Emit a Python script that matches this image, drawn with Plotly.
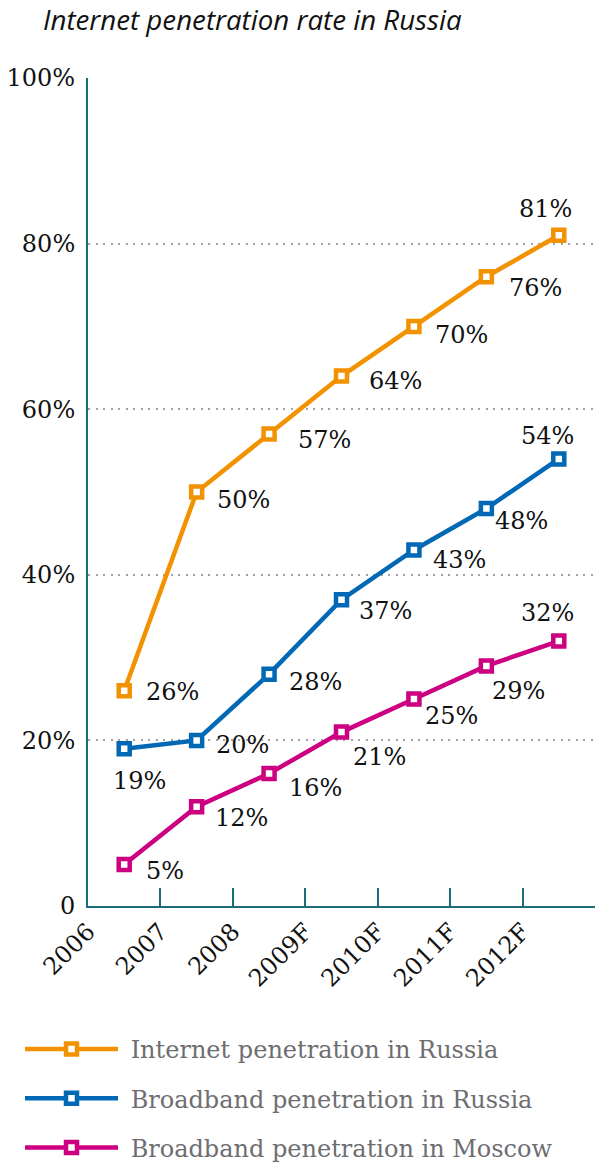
import plotly.graph_objects as go

years = ["2006", "2007", "2008", "2009F", "2010F", "2011F", "2012F"]
internet_ru = [26, 50, 57, 64, 70, 76, 81]
broadband_ru = [19, 20, 28, 37, 43, 48, 54]
broadband_msk = [5, 12, 16, 21, 25, 29, 32]
series_names = ["Internet penetration in Russia",
                "Broadband penetration in Russia",
                "Broadband penetration in Moscow"]
y_ticks = [0, 20, 40, 60, 80, 100]
y_tick_text = ["0", "20%", "40%", "60%", "80%", "100%"]

colors = ["#F39200", "#0068B4", "#CC0080"]
SERIF = "DejaVu Serif"

# label offsets (style only): (xshift, yshift, xanchor)
offsets = [
    [(20, -1, "left"), (18, -8, "left"), (27, -6, "left"), (25, -5, "left"),
     (19, -9, "left"), (21, -11, "left"), (-13, 26, "center")],
    [(15, -32, "center"), (17, -5, "left"), (18, -8, "left"), (15, -11, "left"),
     (17, -10, "left"), (7, -12, "left"), (-11, 23, "center")],
    [(20, -6, "left"), (16, -11, "left"), (18, -14, "left"), (9, -25, "left"),
     (9, -17, "left"), (4, -25, "left"), (-11, 28, "center")],
]

xpos = [i + 0.5 for i in range(len(years))]
fig = go.Figure()
annotations = []
for k, (name, vals) in enumerate(zip(series_names, [internet_ru, broadband_ru, broadband_msk])):
    fig.add_trace(go.Scatter(
        x=xpos, y=vals, name="\u00a0" + name, mode="lines+markers",
        legendgroup=str(k),
        line=dict(color=colors[k], width=4.5),
        marker=dict(symbol="square", size=11, color="white",
                    line=dict(color=colors[k], width=4.5)),
        hoverinfo="skip",
    ))
    for i, v in enumerate(vals):
        dx, dy, xa = offsets[k][i]
        annotations.append(dict(
            x=xpos[i], y=v, text=f"{v}%", showarrow=False,
            xshift=dx, yshift=dy, xanchor=xa, yanchor="middle",
            font=dict(family=SERIF, size=24, color="#111111"),
        ))

fig.update_layout(
    width=595, height=1166,
    margin=dict(l=88, r=0, t=78, b=260, autoexpand=False),
    paper_bgcolor="white", plot_bgcolor="white",
    title=dict(text="Internet penetration rate in Russia",
               font=dict(family="Open Sans", size=27.7, color="#111111", style="italic"),
               xref="container", yref="container", x=43 / 595, xanchor="left",
               y=1 - 20 / 1166, yanchor="middle"),
    annotations=annotations,
    showlegend=True,
    legend=dict(x=(20 - 88) / 507, y=(906 - 1027) / 828,
                xanchor="left", yanchor="top", tracegroupgap=15,
                itemwidth=93, bgcolor="rgba(0,0,0,0)",
                font=dict(family=SERIF, size=24, color="#6D6E71")),
)
fig.update_xaxes(
    range=[0, 7], tickvals=list(range(len(years))) + [7], ticktext=years + [""],
    showgrid=False, zeroline=False, showline=True, linecolor="#1B6D78", linewidth=2,
    ticks="inside", ticklen=18, tickwidth=1.5, tickcolor="#1B6D78",
    tickangle=-45, tickfont=dict(family=SERIF, size=24, color="#111111"),
    fixedrange=True,
)
fig.update_yaxes(
    range=[0, 100], tickvals=y_ticks, ticktext=y_tick_text,
    showgrid=True, gridcolor="#A3A3A3", griddash="2px,5.5px", gridwidth=2,
    zeroline=False, showline=True, linecolor="#1B6D78", linewidth=2,
    ticks="", ticklabelstandoff=6,
    tickfont=dict(family=SERIF, size=24, color="#111111"),
    fixedrange=True,
)

fig.write_html("out.html")
